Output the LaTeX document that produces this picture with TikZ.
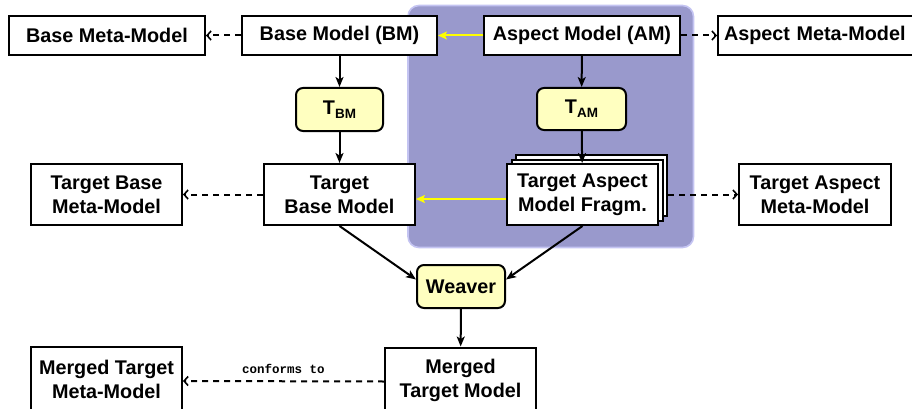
\documentclass[tikz,border=0pt]{standalone}
\usepackage{fontspec}
\setmainfont{Liberation Sans}
\newfontfamily\monofont{Liberation Mono}
\usetikzlibrary{arrows.meta,shadows}
\definecolor{aspectbg}{HTML}{9999CC}
\definecolor{aspectborder}{HTML}{C4C4F2}
\definecolor{trafo}{HTML}{FFFFC0}
\definecolor{weaveyellow}{HTML}{FFFF00}
\tikzset{
  lbl/.style={font=\fontsize{19.8}{24}\selectfont\bfseries},
  modelbox/.style={draw, line width=2pt, fill=white, inner sep=0pt, align=center, lbl},
  trafobox/.style={draw, line width=2pt, fill=trafo, rounded corners=7pt, inner sep=0pt, align=center, lbl},
  solidarrow/.style={line width=2pt, -{Stealth[length=10pt,width=8pt,inset=2.5pt]}},
  dasharrow/.style={line width=2pt, dash pattern=on 6pt off 5pt, -{Straight Barb[length=4pt,width=9pt,line width=1.6pt]}},
  yellowarrow/.style={line width=2pt, draw=weaveyellow, -{Stealth[length=9pt,width=8pt,inset=2pt,fill=weaveyellow]}}
}
\newcommand{\Tsub}[1]{T\raisebox{-4pt}{\fontsize{13.5}{14}\selectfont #1}}
\begin{document}
\begin{tikzpicture}[x=1pt,y=-1pt]
\useasboundingbox (0,0) rectangle (912,409);
\fill[white] (0,0) rectangle (912,409);
% aspect background
\draw[fill=aspectbg, draw=aspectborder, line width=1.6pt, rounded corners=11pt] (408,5.5) rectangle (693.5,247.5);
% nodes
\node[modelbox, minimum width=196pt, minimum height=39pt] (bmm) at (107,35.5) {Base Meta-Model};
\node[modelbox, minimum width=195pt, minimum height=39pt] (bm) at (339.5,35.5) {Base Model (BM)};
\node[modelbox, minimum width=196pt, minimum height=39pt] (am) at (582,35.5) {Aspect Model (AM)};
\node[modelbox, anchor=west, text width=190pt, inner xsep=6pt, align=left, minimum height=39pt] (amm) at (717,35.5) {Aspect Meta-Model};
\node[trafobox, minimum width=87pt, minimum height=43pt] (tbm) at (339.5,109.5) {\Tsub{BM}};
\node[trafobox, minimum width=89pt, minimum height=42pt] (tam) at (581.5,109) {\Tsub{AM}};
\node[modelbox, minimum width=151pt, minimum height=61pt] (tbmm) at (106.5,194.5) {Target Base\\Meta-Model};
\node[modelbox, minimum width=151pt, minimum height=61pt] (tbmod) at (339.5,194.5) {Target\\Base Model};
\node[modelbox, minimum width=151pt, minimum height=61pt,
      double copy shadow={shadow xshift=4.5pt, shadow yshift=4.5pt, draw, line width=2pt, fill=white}] (tamf) at (582.5,194.5) {Target Aspect\\Model Fragm.};
\node[modelbox, minimum width=152pt, minimum height=61pt] (tamm) at (815,194.5) {Target Aspect\\Meta-Model};
\node[trafobox, minimum width=88pt, minimum height=43pt] (weaver) at (461,286.5) {Weaver};
\node[modelbox, minimum width=151pt, minimum height=65pt] (mtm) at (460.5,380) {Merged\\Target Model};
\node[modelbox, minimum width=151pt, minimum height=65pt] (mtmm) at (106.5,379.5) {Merged Target\\Meta-Model};
% connectors
\draw[dasharrow] (bm.west) -- (bmm.east);
\draw[dasharrow] (am.east) -- (amm.west);
\draw[yellowarrow] (am.west) -- (bm.east);
\draw[solidarrow] (bm) -- (tbm);
\draw[solidarrow] (tbm) -- (tbmod);
\draw[solidarrow] (am) -- (tam);
\draw[solidarrow] (tam) -- (tamf);
\draw[yellowarrow] ([yshift=-4.5pt]tamf.west) -- ([yshift=-4.5pt]tbmod.east);
\draw[dasharrow] (tbmod.west) -- (tbmm.east);
\draw[dasharrow] ([xshift=9pt]tamf.east) -- (tamm.west);
\draw[solidarrow] (tbmod.south) -- ([yshift=7pt]weaver.west);
\draw[solidarrow] (tamf.south) -- ([yshift=7pt]weaver.east);
\draw[solidarrow] (weaver) -- (mtm);
\draw[dasharrow] ([yshift=-1.5pt]mtm.west) -- node[above=3pt, font=\monofont\bfseries\fontsize{12.5}{13}\selectfont] (ct) {conforms to} ([yshift=-1.5pt]mtmm.east);
\end{tikzpicture}
\end{document}
